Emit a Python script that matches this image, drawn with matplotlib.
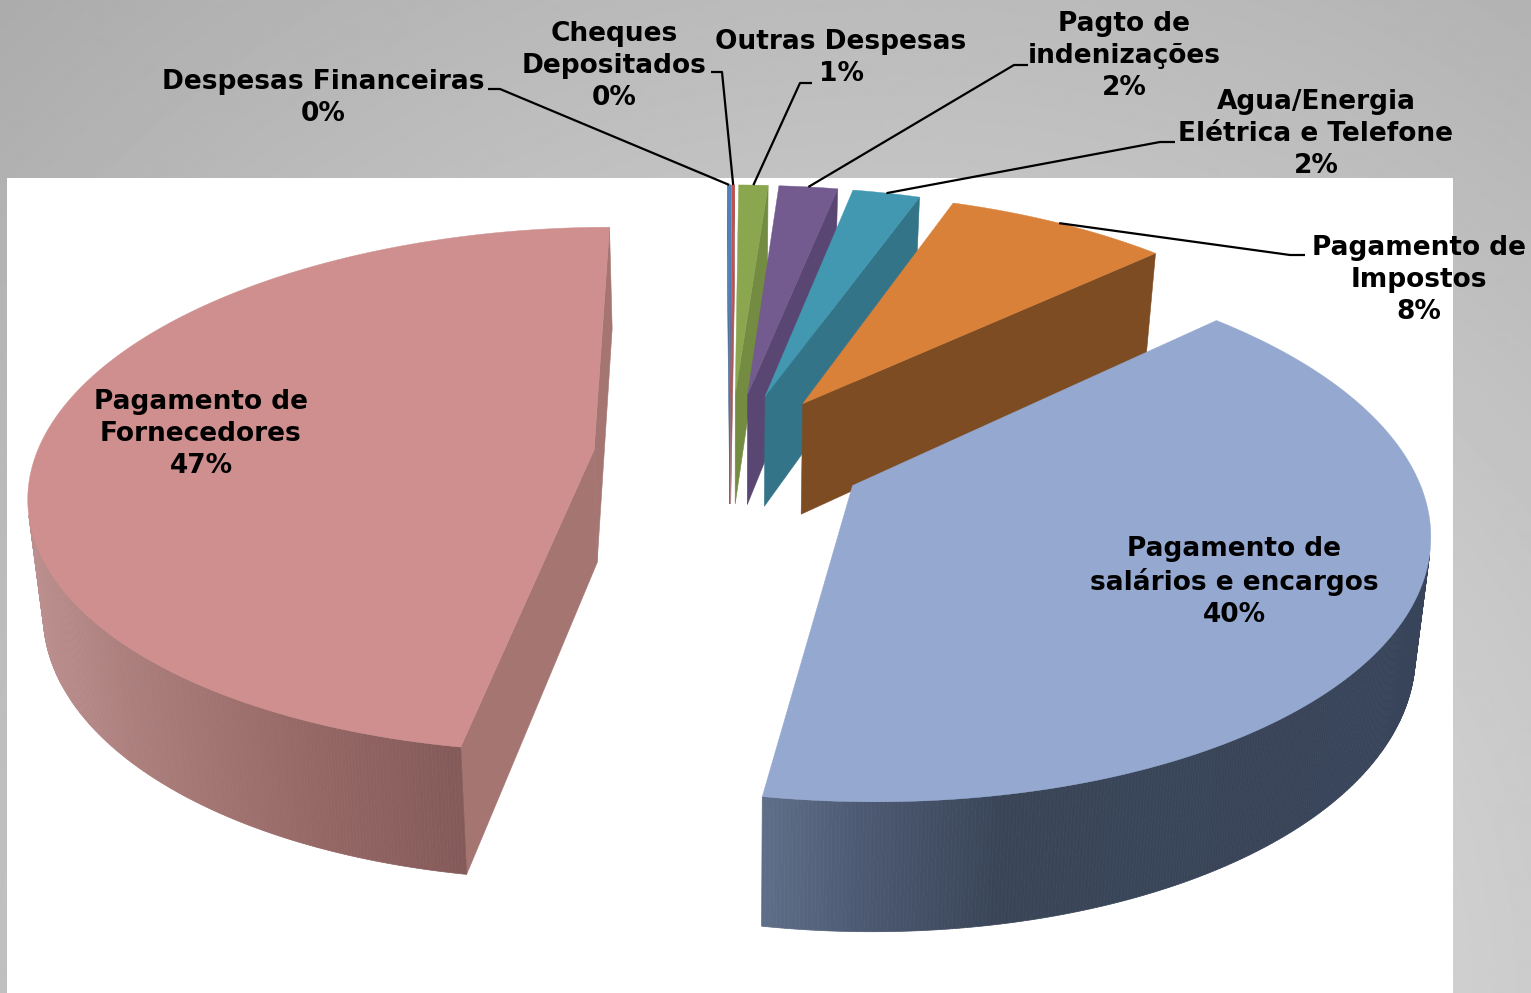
import numpy as np
import matplotlib
matplotlib.use("Agg")
import matplotlib.pyplot as plt
from matplotlib.patches import Polygon, Rectangle

# ---- data (clockwise from the top) ----
labels = ["Despesas Financeiras\n0%", "Cheques\nDepositados\n0%", "Outras Despesas\n1%",
          "Pagto de\nindenizações\n2%", "Agua/Energia\nElétrica e Telefone\n2%",
          "Pagamento de\nImpostos\n8%", "Pagamento de\nsalários e encargos\n40%",
          "Pagamento de\nFornecedores\n47%"]
values = [0.12, 0.1, 1.0, 2.0, 2.3, 7.6, 39.6, 47.2]

top_colors = ["#4f81bd", "#c0504d", "#8aa64f", "#735a8f", "#4198b0", "#da8139", "#94a8d0", "#cf8f8f"]
side_colors = ["#4a6f9c", "#a05c5a", "#748c42", "#5a4672", "#337488", "#7e4c23", "#5f6d86", "#a57572"]
rim_x = [[0, 1531]] * 6 + [[765, 860, 1000, 1431], [27, 120, 300, 465]]
rim_c = [[c, c] for c in side_colors[:6]] + [["#5f6e88", "#4d5a73", "#3a4558", "#38445a"],
                                             ["#bb908e", "#ac7f7d", "#966866", "#835a59"]]
label_pos = [(323, 98), (614, 66), (841, 58), (1124, 56), (1316, 134), (1419, 280), (1234, 582), (201, 434)]
leader_from = [[(488, 89), (500, 89)], [(711, 72), (722, 72)], [(812, 83), (800, 83)],
               [(1028, 65), (1014, 65)], [(1175, 142), (1160, 142)], [(1305, 255), (1290, 255)], None, None]

# ---- projection of the exploded pie ----
CX, CY, A, B, K, D = 730.0, 455.0, 558.0, 258.0, 0.152, 113.0
EXPLODE, START_DEG = 0.245, -0.3


def project(px, py, z=0.0):
    px, py = np.asarray(px, float), np.asarray(py, float)
    w = 1.0 / (1.0 - K * py)
    s = 1.0 - 0.022 * z
    return CX + A * px * w * s, CY + B * py * w + D * w ** 0.75 * z


def rgb(c):
    return np.array(matplotlib.colors.to_rgb(c))


fig = plt.figure(figsize=(15.31, 9.93), dpi=100)
ax = fig.add_axes([0, 0, 1, 1])
ax.set_xlim(0, 1531)
ax.set_ylim(993, 0)
ax.axis("off")

# background
yy, xx = np.mgrid[0:993:2, 0:1531:2]
grey = (232 - 0.045 * np.hypot(xx - 900, yy - 1000)) / 255
ax.imshow(grey, cmap="gray", vmin=0, vmax=1, extent=(0, 1531, 993, 0), aspect="auto", zorder=0,
          interpolation="bilinear")
ax.add_patch(Rectangle((7, 178), 1446, 830, fc="white", ec="none", zorder=1))

total = sum(values)
theta = START_DEG
z = 2
anchors = []
for i, v in enumerate(values):
    span = v / total * 360
    t0, t1 = np.radians(theta), np.radians(theta + span)
    theta += span
    mid = (t0 + t1) / 2
    ox, oy = EXPLODE * np.sin(mid), -EXPLODE * np.cos(mid)
    n = max(4, int(span * 3))
    ts = np.linspace(t0, t1, n)
    rx, ry = ox + np.sin(ts), oy - np.cos(ts)
    topx, topy = project(rx, ry)
    botx, boty = project(rx, ry, 1)
    ax0, ay0 = project(ox, oy)
    bx0, by0 = project(ox, oy, 1)
    anchors.append(tuple(float(q) for q in project(ox + np.sin(mid), oy - np.cos(mid))))
    ipx, ipy = project(ox + 0.5 * np.sin(mid), oy - 0.5 * np.cos(mid))

    def visible(a, b, down):
        e = (b[0] - a[0], b[1] - a[1])
        c1 = e[0] * down[1] - e[1] * down[0]
        c2 = e[0] * (ipy - a[1]) - e[1] * (ipx - a[0])
        return c1 * c2 < 0

    # radial faces
    for k in (0, -1):
        a, b = (float(ax0), float(ay0)), (float(topx[k]), float(topy[k]))
        down = (float(bx0 - ax0), float(by0 - ay0))
        if visible(a, b, down):
            ax.add_patch(Polygon([a, b, (botx[k], boty[k]), (bx0, by0)], closed=True, fc=side_colors[i],
                                 ec=side_colors[i], lw=0.4, zorder=z))
    z += 1
    # curved rim, shaded strip by strip
    rs = [rgb(c) for c in rim_c[i]]
    for j in range(n - 1):
        a = (float(topx[j]), float(topy[j]))
        b = (float(topx[j + 1]), float(topy[j + 1]))
        down = (float(botx[j] - topx[j]), float(boty[j] - topy[j]))
        if not visible(a, b, down):
            continue
        xm = (a[0] + b[0]) / 2
        col = [np.interp(xm, rim_x[i], [r[q] for r in rs]) for q in range(3)]
        ax.add_patch(Polygon([a, b, (botx[j + 1], boty[j + 1]), (botx[j], boty[j])], closed=True,
                             fc=col, ec=col, lw=0.5, zorder=z))
    z += 1
    # top surface
    pts = [(float(ax0), float(ay0))] + list(zip(topx.tolist(), topy.tolist()))
    ax.add_patch(Polygon(pts, closed=True, fc=top_colors[i], ec=top_colors[i], lw=0.3, zorder=z))
    z += 1

# labels and leader lines
font = dict(family="DejaVu Sans", fontweight="bold", fontsize=19.0, color="black", ha="center", va="center",
            linespacing=1.3, zorder=z + 2)
for i, lab in enumerate(labels):
    ax.text(*label_pos[i], lab, **font)
    if leader_from[i]:
        path = leader_from[i] + [anchors[i]]
        ax.plot(*zip(*path), color="black", lw=1.6, zorder=z + 1, solid_capstyle="butt")

fig.savefig("out.png", dpi=100)
